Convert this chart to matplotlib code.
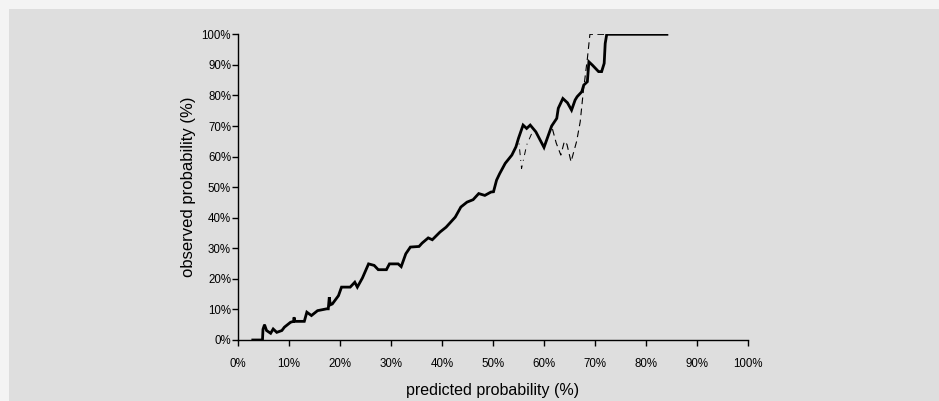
import matplotlib
matplotlib.use("Agg")
import matplotlib.pyplot as plt
from matplotlib.ticker import FuncFormatter, MultipleLocator

plt.rcParams['font.family'] = ['Liberation Sans', 'DejaVu Sans']

# main (thick solid) calibration curve: predicted % vs observed %
main_pred = [2.9, 4.8, 4.9, 5.2, 5.6, 6.4, 6.9, 7.6, 8.6, 9.1, 10.3, 10.9, 11.0, 11.1, 13.0,
             13.5, 14.4, 15.6, 17.4, 17.7, 17.9, 18.1, 18.5, 19.7, 20.3, 22.0, 22.9, 23.4,
             24.4, 25.6, 26.7, 27.5, 29.1, 29.7, 31.4, 32.0, 32.9, 33.8, 35.5, 36.1, 37.3,
             38.1, 39.6, 40.8, 42.6, 43.7, 44.9, 46.1, 47.2, 48.4, 49.6, 50.1, 50.7, 51.3,
             52.4, 53.7, 54.5, 55.0, 55.9, 56.6, 57.3, 58.4, 60.0, 61.5, 62.5, 62.8, 63.7,
             64.6, 65.4, 66.1, 66.5, 67.4, 67.8, 68.5, 68.8, 69.5, 70.7, 71.3, 71.8, 72.0,
             72.3, 84.1]
main_obs = [0.0, 0.0, 3.5, 5.0, 3.1, 2.2, 3.6, 2.5, 3.1, 4.2, 5.8, 6.1, 7.4, 6.1, 6.1,
            9.1, 8.0, 9.6, 10.2, 10.2, 14.0, 11.5, 11.8, 14.5, 17.3, 17.3, 18.9, 17.3,
            20.3, 24.9, 24.4, 23.0, 23.0, 24.9, 24.9, 24.0, 28.2, 30.4, 30.6, 31.7, 33.4,
            32.8, 35.3, 36.9, 40.2, 43.5, 45.1, 45.9, 47.9, 47.3, 48.4, 48.5, 52.3, 54.4,
            57.8, 60.5, 63.2, 66.0, 70.3, 69.2, 70.3, 68.1, 63.0, 70.0, 72.5, 75.8, 79.0,
            77.6, 75.2, 78.5, 79.6, 81.2, 83.4, 84.5, 91.0, 89.9, 87.8, 87.8, 90.5, 97.0,
            100.0, 100.0]

# dashed curve: deviates from the main curve above ~61.5 %
dash_pred_tail = [62.4, 63.3, 64.0, 64.5, 65.3, 66.4, 67.1, 67.7, 68.5, 69.0, 72.3, 84.1]
dash_obs_tail = [64.4, 60.5, 65.0, 64.0, 58.3, 65.0, 71.4, 81.2, 92.0, 100.0, 100.0, 100.0]

# dash-dot curve: deviates between ~55 % and ~58 %
dd_pred_tail = [55.6, 56.6, 57.6, 58.4]
dd_obs_tail = [56.1, 63.8, 67.6, 68.1]

dash_pred = [p for p in main_pred if p <= 61.5] + dash_pred_tail
dash_obs = [o for p, o in zip(main_pred, main_obs) if p <= 61.5] + dash_obs_tail
dd_pred = [p for p in main_pred if p <= 55.0] + dd_pred_tail + [p for p in main_pred if p > 58.4]
dd_obs = ([o for p, o in zip(main_pred, main_obs) if p <= 55.0] + dd_obs_tail
          + [o for p, o in zip(main_pred, main_obs) if p > 58.4])

fig = plt.figure(figsize=(9.39, 4.01), dpi=100)
fig.patch.set_facecolor('#f4f4f4')
# inner gray panel
fig.patches.append(plt.Rectangle((9 / 939, 0), 1, 1 - 9 / 401, transform=fig.transFigure,
                                 facecolor='#dedede', edgecolor='none', zorder=-10))

ax = fig.add_axes([238 / 939, 1 - 340 / 401, 510 / 939, (340 - 34.3) / 401])
ax.set_facecolor('none')

ax.plot(dd_pred, dd_obs, color='black', lw=0.7, linestyle=(0, (6, 5, 1, 5)), zorder=2)
ax.plot(dash_pred, dash_obs, color='black', lw=0.8, linestyle=(0, (6, 4)), zorder=2)
ax.plot(main_pred, main_obs, color='black', lw=2.0, zorder=3, solid_joinstyle='miter')

ax.set_xlim(0, 100)
ax.set_ylim(0, 100)
ax.xaxis.set_major_locator(MultipleLocator(10))
ax.yaxis.set_major_locator(MultipleLocator(10))
fmt = FuncFormatter(lambda v, pos: f"{v:.0f}%")
ax.xaxis.set_major_formatter(fmt)
ax.yaxis.set_major_formatter(fmt)

for s in ['top', 'right']:
    ax.spines[s].set_visible(False)
for s in ['left', 'bottom']:
    ax.spines[s].set_linewidth(1.0)
    ax.spines[s].set_color('black')

ax.tick_params(axis='both', direction='out', length=4, width=1.0, labelsize=8.3,
               colors='black')
ax.tick_params(axis='x', pad=9)
ax.tick_params(axis='y', pad=1)

ax.set_xlabel('predicted probability (%)', fontsize=11.5, labelpad=9)
ax.set_ylabel('observed probability (%)', fontsize=12, labelpad=4)

fig.savefig('out.png', dpi=100, facecolor=fig.get_facecolor())
